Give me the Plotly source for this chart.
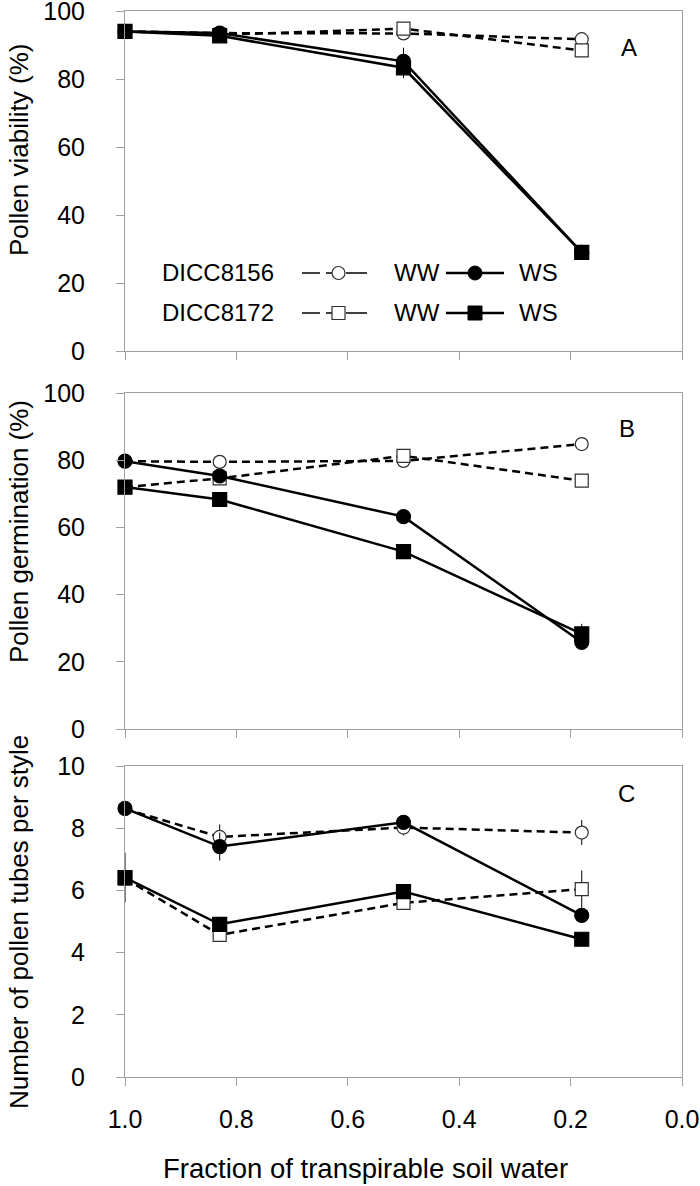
import plotly.graph_objects as go

# fraction of transpirable soil water
ftsw = [1.0, 0.83, 0.5, 0.18]

# A: pollen viability (%)
via_ww_8156 = [94.0, 93.5, 93.4, 91.7]
via_ws_8156 = [94.0, 93.5, 85.2, 29.0]
via_ww_8172 = [94.0, 93.0, 94.8, 88.4]
via_ws_8172 = [94.0, 92.7, 83.3, 29.0]
via_ww_8156_err = [0.5, 0.5, 1.5, 1.5]
via_ws_8156_err = [0.5, 0.5, 4.0, 1.5]
via_ww_8172_err = [0.5, 0.5, 1.0, 2.0]
via_ws_8172_err = [0.5, 0.5, 3.0, 2.0]

# B: pollen germination (%)
ger_ww_8156 = [79.7, 79.5, 79.8, 84.8]
ger_ws_8156 = [79.7, 75.3, 63.2, 25.8]
ger_ww_8172 = [72.0, 74.6, 81.3, 73.9]
ger_ws_8172 = [72.0, 68.3, 52.8, 28.3]
ger_ww_8156_err = [0.8, 0.8, 1.0, 1.0]
ger_ws_8156_err = [1.0, 0.8, 0.8, 1.0]
ger_ww_8172_err = [0.8, 1.0, 1.5, 1.5]
ger_ws_8172_err = [0.8, 0.8, 0.8, 3.0]

# C: number of pollen tubes per style
tub_ww_8156 = [8.62, 7.72, 8.02, 7.86]
tub_ws_8156 = [8.64, 7.41, 8.19, 5.20]
tub_ww_8172 = [6.38, 4.57, 5.60, 6.04]
tub_ws_8172 = [6.41, 4.91, 5.96, 4.43]
tub_ww_8156_err = [0.1, 0.4, 0.25, 0.4]
tub_ws_8156_err = [0.1, 0.45, 0.15, 0.15]
tub_ww_8172_err = [0.1, 0.15, 0.2, 0.6]
tub_ws_8172_err = [0.8, 0.15, 0.15, 0.1]

panels = [
    ("Pollen viability (%)", [0, 100], 20,
     [via_ww_8156, via_ws_8156, via_ww_8172, via_ws_8172],
     [via_ww_8156_err, via_ws_8156_err, via_ww_8172_err, via_ws_8172_err], "A"),
    ("Pollen germination (%)", [0, 100], 20,
     [ger_ww_8156, ger_ws_8156, ger_ww_8172, ger_ws_8172],
     [ger_ww_8156_err, ger_ws_8156_err, ger_ww_8172_err, ger_ws_8172_err], "B"),
    ("Number of pollen tubes per style", [0, 10], 2,
     [tub_ww_8156, tub_ws_8156, tub_ww_8172, tub_ws_8172],
     [tub_ww_8156_err, tub_ws_8156_err, tub_ww_8172_err, tub_ws_8172_err], "C"),
]

W, H = 700, 1186
FONT = "Liberation Sans, Arial, sans-serif"
AXC = "#a0a0a0"


def px(x):
    return x / W


def py(y):
    return 1 - y / H


# pixel boxes of the three plot areas (top, bottom)
boxes = [(11, 351), (393, 729), (766, 1077)]
xdom = [px(125), px(682)]
ytitle_y = [150, 532, 922]
label_pos = [(629, 48), (627, 428), (626, 793)]

styles = [
    dict(dash="8px,5px", symbol="circle", fill="white", size=13),
    dict(dash="solid", symbol="circle", fill="black", size=14),
    dict(dash="8px,5px", symbol="square", fill="white", size=13),
    dict(dash="solid", symbol="square", fill="black", size=14),
]
draw_order = [0, 2, 1, 3]

fig = go.Figure()
annotations = []
for i, (title, yr, dt, series, errs, lab) in enumerate(panels):
    sfx = "" if i == 0 else str(i + 1)
    for k in draw_order:
        st = styles[k]
        fig.add_trace(go.Scatter(
            x=ftsw, y=series[k], xaxis="x" + sfx, yaxis="y" + sfx,
            mode="lines+markers", showlegend=False, cliponaxis=False,
            line=dict(color="black", width=2.5, dash=st["dash"]),
            marker=dict(symbol=st["symbol"], size=st["size"], color=st["fill"],
                        line=dict(color="#303030" if st["fill"] == "white" else "black", width=1.2)),
            error_y=dict(type="data", array=errs[k], color="black", thickness=1, width=0),
        ))
    top, bot = boxes[i]
    common = dict(showgrid=False, zeroline=False, showline=True, linecolor=AXC,
                  linewidth=1, mirror=True, ticks="outside", tickcolor=AXC, ticklen=8,
                  automargin=False, ticklabeloverflow="allow",
                  tickfont=dict(family=FONT, size=25, color="black"))
    fig.layout["xaxis" + sfx] = dict(
        common, domain=xdom, range=[1.0, 0.0], dtick=0.2, tick0=0,
        anchor="y" + sfx, showticklabels=(i == 2), tickformat=".1f",
        ticklabelstandoff=12)
    fig.layout["yaxis" + sfx] = dict(
        common, domain=[py(bot), py(top)], range=yr, dtick=dt, tick0=0,
        anchor="x" + sfx, ticklabelstandoff=26)
    annotations.append(dict(
        text=title, textangle=-90, x=px(19), y=py(ytitle_y[i]), xref="paper", yref="paper",
        showarrow=False, font=dict(family=FONT, size=26, color="black"),
        xanchor="center", yanchor="middle"))
    annotations.append(dict(
        text=lab, x=px(label_pos[i][0]), y=py(label_pos[i][1]), xref="paper", yref="paper",
        showarrow=False, font=dict(family=FONT, size=24, color="black"),
        xanchor="center", yanchor="middle"))

annotations.append(dict(
    text="Fraction of transpirable soil water", x=px(365), y=py(1168), xref="paper", yref="paper",
    showarrow=False, font=dict(family=FONT, size=27.5, color="black"),
    xanchor="center", yanchor="middle"))

# legend block inside panel A
shapes = []
legend_rows = [("DICC8156", "circle", 273), ("DICC8172", "square", 313)]
for name, sym, yy in legend_rows:
    annotations.append(dict(text=name, x=px(218), y=py(yy), xref="paper", yref="paper",
                            showarrow=False, font=dict(family=FONT, size=24, color="black"),
                            xanchor="center", yanchor="middle"))
    annotations.append(dict(text="WW", x=px(417), y=py(yy), xref="paper", yref="paper",
                            showarrow=False, font=dict(family=FONT, size=24, color="black"),
                            xanchor="center", yanchor="middle"))
    annotations.append(dict(text="WS", x=px(538), y=py(yy), xref="paper", yref="paper",
                            showarrow=False, font=dict(family=FONT, size=24, color="black"),
                            xanchor="center", yanchor="middle"))
    for x0, x1 in [(302, 320), (326, 333), (346, 367)]:
        shapes.append(dict(type="line", xref="paper", yref="paper", x0=px(x0), x1=px(x1),
                           y0=py(yy), y1=py(yy), line=dict(color="black", width=1.5)))
    shapes.append(dict(type="line", xref="paper", yref="paper", x0=px(446), x1=px(504),
                       y0=py(yy), y1=py(yy), line=dict(color="black", width=2.5)))
    shp = "circle" if sym == "circle" else "rect"
    shapes.append(dict(type=shp, xref="paper", yref="paper", x0=px(332), x1=px(345),
                       y0=py(yy + 6.5), y1=py(yy - 6.5), fillcolor="white",
                       line=dict(color="#303030", width=1.2)))
    shapes.append(dict(type=shp, xref="paper", yref="paper", x0=px(468), x1=px(482),
                       y0=py(yy + 7), y1=py(yy - 7), fillcolor="black",
                       line=dict(color="black", width=1)))

fig.update_layout(
    width=W, height=H, margin=dict(l=0, r=0, t=0, b=0),
    paper_bgcolor="white", plot_bgcolor="white",
    annotations=annotations, shapes=shapes,
    font=dict(family=FONT, color="black"),
)

# the page's default 8px body margin would push the figure off the window
fig.write_html("out.html", config={"displayModeBar": False},
               post_script="document.body.style.margin='0px';")
